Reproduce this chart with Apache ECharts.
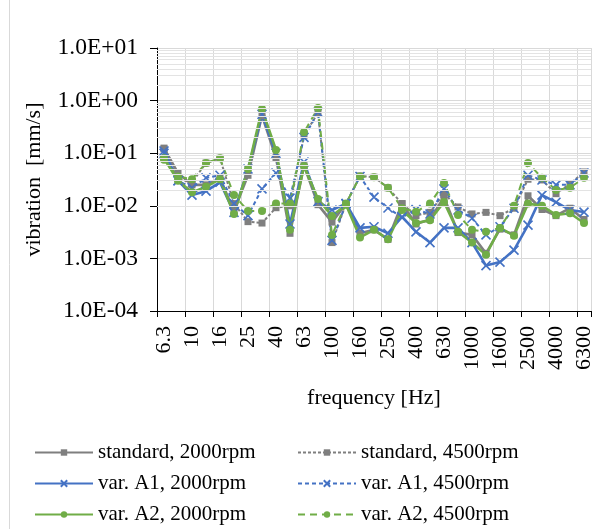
<!DOCTYPE html>
<html>
<head>
<meta charset="utf-8">
<script src="https://cdn.jsdelivr.net/npm/echarts@6/dist/echarts.min.js"></script>
<style>html,body{margin:0;padding:0;background:#fff}#c{width:602px;height:529px}</style>
</head>
<body>
<div id="c"></div>
<script>
const categories = ['6.3','8','10','12.5','16','20','25','31.5','40','50','63','80','100','125','160','200','250','315','400','500','630','800','1000','1250','1600','2000','2500','3150','4000','5000','6300'];

const standard2000 = [0.125,0.042,0.025,0.025,0.033,0.008,0.038,0.52,0.082,0.003,0.058,0.0105,0.0049,0.011,0.003,0.0035,0.0023,0.011,0.0045,0.0055,0.0145,0.0031,0.0028,0.00125,0.0036,0.0028,0.0155,0.0085,0.0065,0.009,0.0055];
const standard4500 = [0.12,0.032,0.028,0.065,0.08,0.011,0.005,0.0047,0.0092,0.010,0.22,0.58,0.002,0.011,0.037,0.035,0.022,0.011,0.0065,0.0075,0.017,0.0095,0.007,0.0075,0.0065,0.009,0.032,0.031,0.017,0.026,0.044];
const varA1_2000 = [0.11,0.03,0.016,0.019,0.028,0.0075,0.05,0.55,0.1,0.0045,0.068,0.012,0.0083,0.011,0.0038,0.004,0.003,0.0062,0.0032,0.002,0.0038,0.0038,0.002,0.00073,0.00085,0.00144,0.0043,0.016,0.0117,0.0083,0.0076];
const varA1_4500 = [0.1,0.03,0.022,0.034,0.038,0.011,0.0065,0.021,0.042,0.014,0.2,0.6,0.0022,0.011,0.036,0.0146,0.0091,0.006,0.0085,0.007,0.021,0.0083,0.0058,0.0028,0.004,0.009,0.038,0.031,0.025,0.025,0.042];
const varA2_2000 = [0.08,0.03,0.018,0.023,0.032,0.007,0.05,0.69,0.115,0.0035,0.057,0.0134,0.0064,0.0105,0.0025,0.0035,0.0023,0.0083,0.0047,0.0053,0.0118,0.0032,0.002,0.00117,0.0038,0.0027,0.011,0.010,0.0067,0.0072,0.0047];
const varA2_4500 = [0.075,0.036,0.032,0.065,0.08,0.016,0.008,0.008,0.011,0.011,0.25,0.72,0.0028,0.011,0.036,0.035,0.022,0.009,0.0077,0.011,0.027,0.0067,0.0035,0.0032,0.0038,0.010,0.065,0.034,0.020,0.022,0.034];

const yMin = 1e-4, yMax = 10;
const minorGridValues = [];
for (let e = -4; e < 1; e++) { for (let m = 2; m <= 9; m++) minorGridValues.push(m * Math.pow(10, e)); }

const FONT = "'Liberation Serif', 'Times New Roman', serif";
const GRAY = '#7f7f7f', BLUE = '#4472c4', GREEN = '#70ad47';
const XSYM = 'path://M0,0L10,10M10,0L0,10';

function mk(name, data, color, dashed, dash, symbol, size) {
  const isX = symbol === XSYM;
  return {
    name, type: 'line', data, z: 3,
    symbol, symbolSize: size,
    lineStyle: { color, width: dashed ? 2 : 2.6, type: dashed ? dash : 'solid' },
    itemStyle: isX ? { color: 'rgba(0,0,0,0)', borderColor: color, borderWidth: 1.6 } : { color, borderWidth: 0 },
    emphasis: { disabled: true },
    animation: false
  };
}

const legendText = { fontFamily: FONT, fontSize: 21, color: '#000', lineHeight: 21 };

const chart = echarts.init(document.getElementById('c'), null, { renderer: 'canvas' });
chart.setOption({
  backgroundColor: '#fff',
  animation: false,
  textStyle: { fontFamily: FONT },
  graphic: [{ type: 'line', shape: { x1: 9.5, y1: 0, x2: 9.5, y2: 529 }, style: { stroke: '#d9d9d9', lineWidth: 1 }, silent: true }],
  grid: { left: 157, right: 11, top: 48, bottom: 218, containLabel: false },
  xAxis: {
    type: 'category', data: categories, boundaryGap: true,
    name: 'frequency [Hz]', nameLocation: 'middle', nameGap: 76,
    nameTextStyle: { fontFamily: FONT, fontSize: 22, color: '#000' },
    axisLine: { lineStyle: { color: '#000', width: 1 } },
    axisTick: { show: true, interval: 1, length: 6, lineStyle: { color: '#000' } },
    axisLabel: { interval: 1, rotate: 90, margin: 15, fontFamily: FONT, fontSize: 22, color: '#000' },
    splitLine: { show: true, interval: 1, lineStyle: { color: '#d9d9d9', width: 1 } }
  },
  yAxis: {
    type: 'log', logBase: 10, min: yMin, max: yMax,
    name: 'vibration  [mm/s]', nameLocation: 'middle', nameGap: 112, nameRotate: 90,
    nameTextStyle: { fontFamily: FONT, fontSize: 22, color: '#000' },
    axisLine: { show: true, lineStyle: { color: '#000', width: 1 } },
    axisTick: { show: true, length: 7, lineStyle: { color: '#000' } },
    axisLabel: {
      margin: 19, fontFamily: FONT, fontSize: 23.5, color: '#000',
      formatter: v => { const e = Math.round(Math.log10(v)); return '1.0E' + (e < 0 ? '-' : '+') + String(Math.abs(e)).padStart(2, '0'); }
    },
    splitLine: { show: true, lineStyle: { color: '#d9d9d9', width: 1 } }
  },
  legend: [
    { orient: 'vertical', left: 34, top: 442, padding: 0, itemWidth: 58, itemHeight: 8, itemGap: 10,
      data: ['standard, 2000rpm', 'var. A1, 2000rpm', 'var. A2, 2000rpm'], textStyle: legendText },
    { orient: 'vertical', left: 297, top: 442, padding: 0, itemWidth: 58, itemHeight: 8, itemGap: 10,
      data: ['standard, 4500rpm', 'var. A1, 4500rpm', 'var. A2, 4500rpm'], textStyle: legendText }
  ],
  series: [
    { name: 'minor-grid', type: 'line', data: [], z: 1, silent: true,
      markLine: { silent: true, symbol: 'none', animation: false, label: { show: false },
        lineStyle: { color: '#e3e3e3', width: 1, type: 'solid' },
        emphasis: { disabled: true },
        data: minorGridValues.map(v => ({ yAxis: v })) } },
    mk('standard, 2000rpm', standard2000, GRAY, false, null, 'rect', 7),
    mk('standard, 4500rpm', standard4500, GRAY, true, [3, 2], 'rect', 7),
    mk('var. A1, 2000rpm', varA1_2000, BLUE, false, null, XSYM, 9),
    mk('var. A1, 4500rpm', varA1_4500, BLUE, true, [4, 3], XSYM, 9),
    mk('var. A2, 2000rpm', varA2_2000, GREEN, false, null, 'circle', 8),
    mk('var. A2, 4500rpm', varA2_4500, GREEN, true, [7, 5], 'circle', 8)
  ]
});
</script>
</body>
</html>
